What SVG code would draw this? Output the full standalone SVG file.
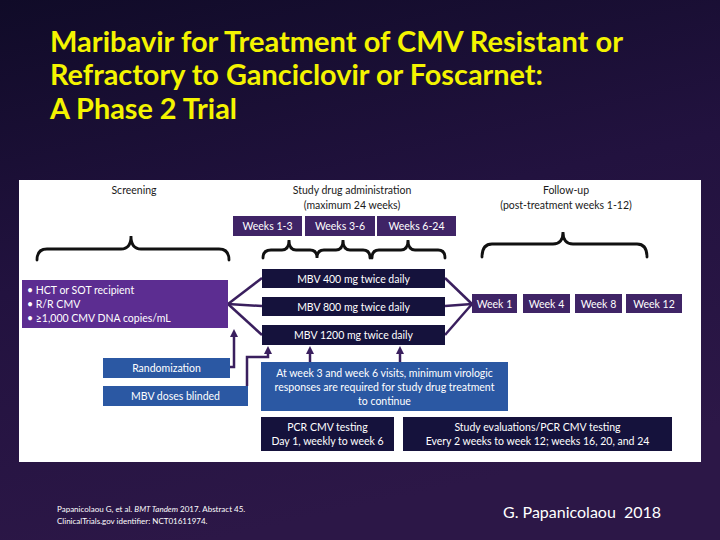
<svg xmlns="http://www.w3.org/2000/svg" width="720" height="540" viewBox="0 0 720 540">
<defs>
<linearGradient id="bg" x1="0" y1="0" x2="0.3" y2="1">
<stop offset="0" stop-color="#100b28"/>
<stop offset="0.5" stop-color="#22123f"/>
<stop offset="1" stop-color="#2c1747"/>
</linearGradient>
<marker id="ah" markerWidth="8" markerHeight="8" refX="4" refY="4" orient="auto" markerUnits="userSpaceOnUse" viewBox="0 0 8 8">
<path d="M0,0 L8,4 L0,8 z" fill="#3a1f5e"/>
</marker>
<style>
.t{font-family:Lato,"Noto Sans","Liberation Sans",sans-serif}
.title{font-family:Lato,"Noto Sans","Liberation Sans",sans-serif;font-weight:700;font-size:28px;fill:#f4f400}
.hd{font-family:Lato,"Noto Sans","Liberation Sans",sans-serif;font-size:10.5px;fill:#1a1a1a;text-anchor:middle}
.w{font-family:Lato,"Noto Sans","Liberation Sans",sans-serif;font-size:10.5px;fill:#fff}
.c{text-anchor:middle}
.purple{fill:#5c2d91}
.wk{fill:#3f2466}
.navy{fill:#15123c}
.blue{fill:#2b58a3}
.brace{fill:none;stroke:#111;stroke-width:2.8;stroke-linecap:round}
.conn{fill:none;stroke:#3a1f5e;stroke-width:2.5}
</style>
</defs>
<rect width="720" height="540" fill="url(#bg)"/>
<g id="title">
<text class="title" x="50" y="52" textLength="573" lengthAdjust="spacingAndGlyphs">Maribavir for Treatment of CMV Resistant or</text>
<text class="title" x="50" y="85" textLength="493" lengthAdjust="spacingAndGlyphs">Refractory to Ganciclovir or Foscarnet:</text>
<text class="title" x="50" y="119" textLength="187" lengthAdjust="spacingAndGlyphs">A Phase 2 Trial</text>
</g>
<rect id="panel" x="19" y="180" width="682" height="282" fill="#fff"/>
<g id="headers">
<text class="hd" x="134" y="194">Screening</text>
<text class="hd" x="352" y="194">Study drug administration</text>
<text class="hd" x="352" y="209">(maximum 24 weeks)</text>
<text class="hd" x="566" y="194">Follow-up</text>
<text class="hd" x="566" y="209">(post-treatment weeks 1-12)</text>
</g>
<g id="weeks13"><rect class="wk" x="233" y="216" width="69" height="20"/><text class="w c" x="267.5" y="229.5">Weeks 1-3</text></g>
<g id="weeks36"><rect class="wk" x="305" y="216" width="70" height="20"/><text class="w c" x="340" y="229.5">Weeks 3-6</text></g>
<g id="weeks624"><rect class="wk" x="377" y="216" width="79" height="20"/><text class="w c" x="416.5" y="229.5">Weeks 6-24</text></g>
<g id="braces">
<path class="brace" d="M37,260 Q37,249 47,249 H121 Q131,249 131,236 Q131,249 141,249 H219 Q229,249 229,260"/>
<path class="brace" d="M263,258 Q263,250 271,250 H282 Q289,250 289,240 Q289,250 296,250 H310 Q317,250 317,258 Q317,250 324,250 H336 Q343,250 343,240 Q343,250 350,250 H363 Q370,250 370,258"/>
<path class="brace" d="M372,258 Q372,250 379,250 H401 Q408,250 408,240 Q408,250 415,250 H438 Q445,250 445,258"/>
<path class="brace" d="M482,257 Q482,244 492,244 H553 Q563,244 563,232 Q563,244 573,244 H637 Q647,244 647,257"/>
</g>
<g id="connectors">
<path class="conn" d="M228,304 L262,278"/>
<path class="conn" d="M228,304 L262,306"/>
<path class="conn" d="M228,304 L262,335"/>
<path class="conn" d="M445,278 L472,304"/>
<path class="conn" d="M445,306 L472,304"/>
<path class="conn" d="M445,335 L472,304"/>
<path class="conn" d="M230,367 H234 V333" marker-end="url(#ah)"/>
<path class="conn" d="M247,386 V357 H268 V350" marker-end="url(#ah)"/>
<path class="conn" d="M310,362 V350" marker-end="url(#ah)"/>
<path class="conn" d="M400,362 V350" marker-end="url(#ah)"/>
</g>
<g id="criteria">
<rect class="purple" x="22" y="280" width="206" height="48"/>
<text class="w" x="27" y="294">• HCT or SOT recipient</text>
<text class="w" x="27" y="308">• R/R CMV</text>
<text class="w" x="27" y="322">• ≥1,000 CMV DNA copies/mL</text>
</g>
<g id="mbv400"><rect class="navy" x="262" y="269" width="183" height="19"/><text class="w c" x="353.5" y="282.5">MBV 400 mg twice daily</text></g>
<g id="mbv800"><rect class="navy" x="262" y="297" width="183" height="19"/><text class="w c" x="353.5" y="310.5">MBV 800 mg twice daily</text></g>
<g id="mbv1200"><rect class="navy" x="262" y="325" width="183" height="20"/><text class="w c" x="353.5" y="339">MBV 1200 mg twice daily</text></g>
<g id="week1"><rect class="wk" x="472" y="294" width="45" height="19"/><text class="w c" x="494.5" y="307.5">Week 1</text></g>
<g id="week4"><rect class="wk" x="523" y="294" width="47" height="19"/><text class="w c" x="546.5" y="307.5">Week 4</text></g>
<g id="week8"><rect class="wk" x="575" y="294" width="47" height="19"/><text class="w c" x="598.5" y="307.5">Week 8</text></g>
<g id="week12"><rect class="wk" x="626" y="294" width="56" height="19"/><text class="w c" x="654" y="307.5">Week 12</text></g>
<g id="randomization"><rect class="blue" x="103" y="358" width="127" height="20"/><text class="w c" x="166.5" y="372">Randomization</text></g>
<g id="blinded"><rect class="blue" x="103" y="386" width="145" height="20"/><text class="w c" x="175.5" y="400">MBV doses blinded</text></g>
<g id="virologic">
<rect class="blue" x="261" y="362" width="247" height="49"/>
<text class="w c" x="384.5" y="377">At week 3 and week 6 visits, minimum virologic</text>
<text class="w c" x="384.5" y="391">responses are required for study drug treatment</text>
<text class="w c" x="384.5" y="405">to continue</text>
</g>
<g id="pcr">
<rect class="navy" x="261" y="417" width="133" height="34"/>
<text class="w c" x="327.5" y="431">PCR CMV testing</text>
<text class="w c" x="327.5" y="445">Day 1, weekly to week 6</text>
</g>
<g id="evaluations">
<rect class="navy" x="403" y="417" width="269" height="34"/>
<text class="w c" x="537.5" y="431">Study evaluations/PCR CMV testing</text>
<text class="w c" x="537.5" y="445">Every 2 weeks to week 12; weeks 16, 20, and 24</text>
</g>
<g id="footer">
<text class="t" x="57" y="512" font-size="8" fill="#fff">Papanicolaou G, et al. <tspan font-style="italic">BMT Tandem</tspan> 2017. Abstract 45.</text>
<text class="t" x="57" y="524" font-size="8" fill="#fff">ClinicalTrials.gov identifier: NCT01611974.</text>
<text class="t" x="503" y="518" font-size="16" fill="#fff" xml:space="preserve">G. Papanicolaou  2018</text>
</g>
</svg>
